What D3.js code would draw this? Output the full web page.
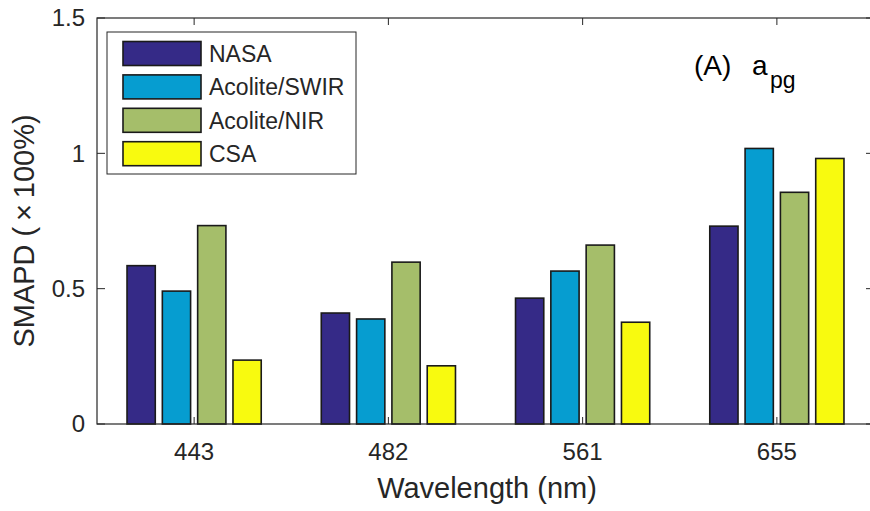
<!DOCTYPE html>
<html>
<head>
<meta charset="utf-8">
<script src="https://cdn.jsdelivr.net/npm/d3@7"></script>
<style>
  html, body { margin: 0; padding: 0; background: #fff; }
  svg { display: block; font-family: "Liberation Sans", Arial, sans-serif; }
</style>
</head>
<body>
<svg id="chart" width="870" height="511"></svg>
<script>
const categories = ["443", "482", "561", "655"];
const seriesNames = ["NASA", "Acolite/SWIR", "Acolite/NIR", "CSA"];
const nasa = [0.585, 0.410, 0.465, 0.731];
const acoliteSWIR = [0.491, 0.388, 0.565, 1.018];
const acoliteNIR = [0.733, 0.598, 0.661, 0.856];
const csa = [0.236, 0.215, 0.376, 0.981];
const yTicks = [0, 0.5, 1, 1.5];
const yTickLabels = ["0", "0.5", "1", "1.5"];
const colors = ["#352a87", "#069dd0", "#a5be6a", "#f8fa0f"];

const seriesValues = [nasa, acoliteSWIR, acoliteNIR, csa];

const svg = d3.select("#chart");
const pL = 97, pR = 874, pT = 18, pB = 424;
const ink = "#262626";

const x = d3.scaleLinear().domain([0.5, 4.5]).range([pL, pR]);
const y = d3.scaleLinear().domain([0, 1.5]).range([pB, pT]);

// MATLAB grouped bar geometry
const nS = seriesNames.length;
const groupWidth = Math.min(0.8, nS / (nS + 1.5));
const step = groupWidth / nS;
const barW = step * 0.8;

const bars = [];
seriesValues.forEach((vals, s) => {
  vals.forEach((v, i) => {
    const cx = (i + 1) - groupWidth / 2 + step * (s + 0.5);
    bars.push({ s, i, v, cx });
  });
});

svg.append("g").selectAll("rect").data(bars).enter().append("rect")
  .attr("x", d => x(d.cx - barW / 2))
  .attr("width", d => x(d.cx + barW / 2) - x(d.cx - barW / 2))
  .attr("y", d => y(d.v))
  .attr("height", d => y(0) - y(d.v))
  .attr("fill", d => colors[d.s])
  .attr("stroke", "#1a1a1a")
  .attr("stroke-width", 1.6);

// Axes box
const ax = svg.append("g").attr("stroke", ink).attr("fill", "none");
ax.append("rect").attr("x", pL).attr("y", pT).attr("width", pR - pL).attr("height", pB - pT).attr("stroke-width", 1.2);

const tickLen = 8;
yTicks.forEach(t => {
  ax.append("line").attr("x1", pL).attr("x2", pL + tickLen).attr("y1", y(t)).attr("y2", y(t));
  ax.append("line").attr("x1", pR).attr("x2", pR - tickLen).attr("y1", y(t)).attr("y2", y(t));
});
categories.forEach((c, i) => {
  ax.append("line").attr("x1", x(i + 1)).attr("x2", x(i + 1)).attr("y1", pB).attr("y2", pB - 7);
  ax.append("line").attr("x1", x(i + 1)).attr("x2", x(i + 1)).attr("y1", pT).attr("y2", pT + 7);
});

// Tick labels
svg.append("g").selectAll("text").data(yTicks).enter().append("text")
  .attr("x", pL - 12).attr("y", d => y(d)).attr("dy", "0.35em")
  .attr("text-anchor", "end").attr("font-size", 24).attr("fill", ink)
  .text((d, i) => yTickLabels[i]);

svg.append("g").selectAll("text").data(categories).enter().append("text")
  .attr("x", (d, i) => x(i + 1)).attr("y", 460)
  .attr("text-anchor", "middle").attr("font-size", 24).attr("fill", ink)
  .text(d => d);

// Axis labels
svg.append("text").attr("x", 487).attr("y", 498).attr("text-anchor", "middle")
  .attr("font-size", 29).attr("fill", ink).text("Wavelength (nm)");

svg.append("text").attr("transform", "translate(34,231) rotate(-90)")
  .attr("text-anchor", "middle").attr("font-size", 29).attr("fill", ink)
  .text("SMAPD (\u2009\u00d7\u2009100%)");

// Annotation
const ann = svg.append("text").attr("y", 75).attr("font-size", 28).attr("fill", "#000");
ann.append("tspan").attr("x", 694).text("(A)");
ann.append("tspan").attr("x", 752).text("a");
ann.append("tspan").attr("x", 770).attr("font-size", 23).attr("dy", 13).text("pg");

// Legend
const lg = svg.append("g");
lg.append("rect").attr("x", 107).attr("y", 32).attr("width", 249).attr("height", 142)
  .attr("fill", "#fff").attr("stroke", ink).attr("stroke-width", 1);
seriesNames.forEach((n, i) => {
  const cy = 53.5 + i * 33.4;
  lg.append("rect").attr("x", 123).attr("y", cy - 12).attr("width", 78).attr("height", 24)
    .attr("fill", colors[i]).attr("stroke", "#1a1a1a").attr("stroke-width", 1.6);
  lg.append("text").attr("x", 209).attr("y", cy).attr("dy", "0.36em")
    .attr("font-size", 23).attr("fill", ink).text(n);
});
</script>
</body>
</html>
